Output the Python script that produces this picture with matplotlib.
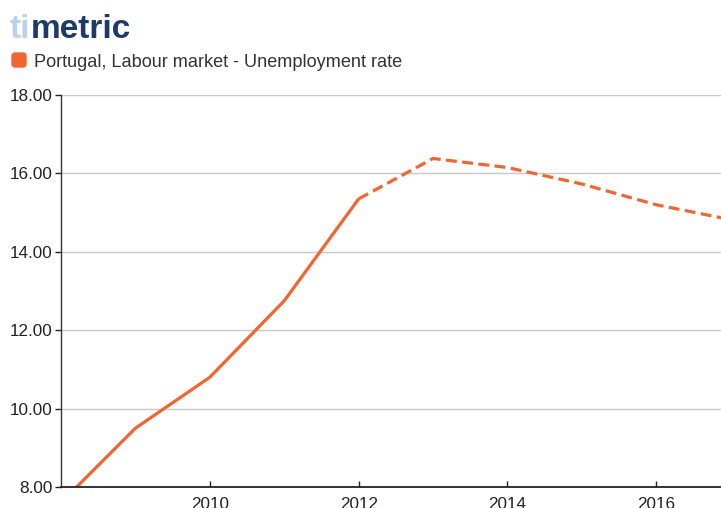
import matplotlib
matplotlib.use("Agg")
import matplotlib.pyplot as plt
from matplotlib.patches import FancyBboxPatch
from matplotlib.transforms import IdentityTransform

plt.rcParams['font.family'] = ['Liberation Sans', 'DejaVu Sans']

years_actual = [2008, 2009, 2010, 2011, 2012]
values_actual = [7.6, 9.5, 10.8, 12.75, 15.35]
years_forecast = [2012, 2013, 2014, 2015, 2016, 2017]
values_forecast = [15.35, 16.38, 16.15, 15.73, 15.2, 14.82]
yticks = [8, 10, 12, 14, 16, 18]
xticks = [2010, 2012, 2014, 2016]
series_name = "Portugal, Labour market - Unemployment rate"

ORANGE = "#f26430"
W, H = 721, 508
fig = plt.figure(figsize=(W / 100, H / 100), dpi=100)
ax = fig.add_axes([61 / W, (H - 487) / H, 1 - 61 / W, (487 - 95) / H])

ax.plot(years_actual, values_actual, color=ORANGE, lw=2.3, solid_capstyle='butt')
ax.plot(years_forecast, values_forecast, color=ORANGE, lw=2.3,
        linestyle=(0, (3.4, 1.7)), dash_capstyle='butt')

ax.set_xlim(2008.0, 2016.87)
ax.set_ylim(8, 18)
ax.set_yticks(yticks)
ax.set_yticklabels([f"{v:.2f}" for v in yticks])
ax.set_xticks(xticks)
ax.set_xticklabels([str(v) for v in xticks])
ax.grid(axis='y', color='#c8c8c8', lw=1)
ax.set_axisbelow(True)
for s in ['top', 'right']:
    ax.spines[s].set_visible(False)
ax.spines['left'].set_color('#333333')
ax.spines['bottom'].set_color('#222222')
ax.spines['left'].set_linewidth(1)
ax.spines['bottom'].set_linewidth(1.3)
ax.tick_params(axis='y', direction='out', length=4.5, width=1, pad=1.5,
               labelsize=12.3, colors='#222222')
ax.tick_params(axis='x', direction='in', length=4.5, width=1, pad=7,
               labelsize=12.3, colors='#222222')

# logo
t1 = fig.text(10 / W, 1 - 38 / H, "ti", fontsize=24, fontweight='bold',
              color='#bcd1ec', va='baseline')
ax.annotate("metric", xy=(1, 0), xycoords=t1, fontsize=24, fontweight='bold',
            color='#1d3a6b', va='bottom', ha='left', annotation_clip=False)

# legend
fig.patches.append(FancyBboxPatch((12, H - 67), 14, 14,
                                  boxstyle="round,pad=0,rounding_size=3",
                                  transform=IdentityTransform(), color=ORANGE))
fig.text(34 / W, 1 - 67 / H, series_name, fontsize=13.1, color='#333333',
         va='baseline')

fig.savefig("out.png", dpi=100)
